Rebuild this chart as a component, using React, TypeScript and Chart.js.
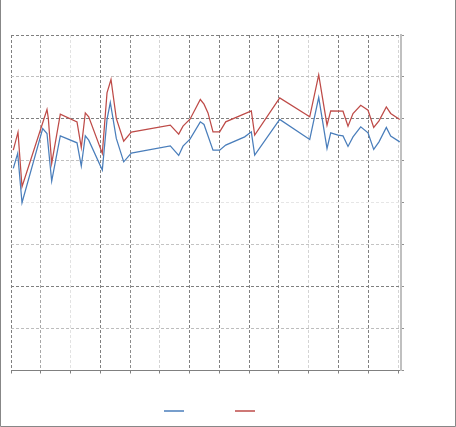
import React, { useEffect, useRef } from 'react';
import { Chart, registerables } from 'chart.js';

Chart.register(...registerables);

// Series labels (the legend shows only the line keys)
const seriesLabels: string[] = ['', ''];

// Blue series (x, y)
const blueX: number[] = [0.077, 0.225, 0.37, 1.065, 1.209, 1.367, 1.656, 2.217, 2.361, 2.496, 2.61, 3.067, 3.225, 3.336, 3.537, 3.786, 4.041, 5.351, 5.633, 5.778, 6.013, 6.359, 6.483, 6.785, 7.01, 7.212, 7.85, 8.072, 8.186, 9.026, 10.034, 10.336, 10.615, 10.739, 10.984, 11.152, 11.32, 11.488, 11.747, 11.992, 12.183, 12.361, 12.607, 12.754, 13.057];
const blueY: number[] = [48.19, 51.76, 40.0, 57.71, 56.52, 45.17, 55.95, 54.29, 48.74, 55.95, 54.93, 47.79, 59.86, 63.9, 55.33, 49.76, 51.83, 53.57, 51.29, 53.5, 55.17, 59.29, 58.67, 52.55, 52.55, 53.74, 55.71, 56.9, 51.36, 59.86, 55.1, 65.1, 52.95, 56.67, 56.12, 55.95, 53.43, 55.71, 58.1, 56.67, 52.71, 54.52, 57.95, 55.88, 54.52];

// Red series (x, y)
const redX: number[] = [0.077, 0.235, 0.37, 1.209, 1.253, 1.367, 1.656, 2.217, 2.361, 2.496, 2.61, 3.067, 3.225, 3.359, 3.537, 3.786, 4.041, 5.351, 5.633, 5.778, 6.013, 6.359, 6.483, 6.617, 6.785, 7.01, 7.212, 8.072, 8.186, 9.026, 10.034, 10.336, 10.615, 10.739, 11.152, 11.32, 11.488, 11.747, 11.992, 12.183, 12.361, 12.607, 12.754, 13.057];
const redY: number[] = [52.55, 56.83, 43.81, 62.24, 60.17, 49.38, 61.12, 59.29, 53.19, 61.43, 60.48, 51.76, 66.19, 69.38, 60.1, 54.69, 56.83, 58.5, 56.36, 58.26, 59.93, 64.62, 63.5, 61.43, 56.9, 56.9, 59.29, 61.9, 56.12, 65.0, 60.48, 70.48, 58.5, 61.9, 61.83, 58.26, 61.29, 63.26, 62.07, 57.95, 59.52, 62.86, 61.29, 59.86];

// Axis ranges
const xMin = 0;
const xMax = 13.1;
const xStep = 1;
const yMin = 0;
const yMax = 80;
const yStep = 10;

const toPoints = (xs: number[], ys: number[]) => xs.map((x, i) => ({ x, y: ys[i] }));

const yGridColors = ['#808080', '#bdbdbd', '#808080', '#c4c4c4', '#e6e6e6', '#c0c0c0', '#808080', '#c0c0c0', '#808080'];
const xGridColors = ['#808080', '#a8a8a8', '#e2e2e2', '#808080', '#8c8c8c', '#d4d4d4', '#808080', '#808080', '#808080', '#808080', '#d4d4d4', '#808080', '#808080', '#d4d4d4'];

const framePlugin = {
  id: 'frame',
  beforeDraw(chart: any) {
    const { ctx, width, height } = chart;
    ctx.save();
    ctx.fillStyle = '#ffffff';
    ctx.fillRect(0, 0, width, height);
    ctx.strokeStyle = '#878787';
    ctx.lineWidth = 1;
    ctx.beginPath();
    ctx.moveTo(0.5, 0);
    ctx.lineTo(0.5, height - 0.5);
    ctx.lineTo(width - 0.5, height - 0.5);
    ctx.lineTo(width - 0.5, 0);
    ctx.stroke();
    ctx.restore();
  },
};

export default function App() {
  const canvasRef = useRef<HTMLCanvasElement | null>(null);

  useEffect(() => {
    const canvas = canvasRef.current;
    if (!canvas) return;
    const chart = new Chart(canvas, {
      type: 'line',
      data: {
        datasets: [
          {
            label: seriesLabels[0],
            data: toPoints(blueX, blueY),
            borderColor: '#4a7ebb',
            backgroundColor: '#4a7ebb',
            borderWidth: 1.25,
            pointRadius: 0,
            tension: 0,
            fill: false,
          },
          {
            label: seriesLabels[1],
            data: toPoints(redX, redY),
            borderColor: '#be4b48',
            backgroundColor: '#be4b48',
            borderWidth: 1.25,
            pointRadius: 0,
            tension: 0,
            fill: false,
          },
        ],
      },
      options: {
        responsive: false,
        animation: false,
        events: [],
        layout: { padding: { left: 11, right: 42, top: 35, bottom: 0 }, autoPadding: false },
        plugins: {
          tooltip: { enabled: false },
          title: { display: false },
          legend: {
            display: true,
            position: 'bottom',
            align: 'center',
            labels: {
              usePointStyle: true,
              pointStyle: 'line',
              pointStyleWidth: 20,
              padding: 9.5,
              font: { size: 12 },
              generateLabels: (c: any) => {
                const items = (Chart as any).defaults.plugins.legend.labels.generateLabels(c);
                items.forEach((it: any) => {
                  it.lineWidth = 1.5;
                  it.pointStyle = 'line';
                });
                const spacer = {
                  text: '',
                  fillStyle: 'rgba(0,0,0,0)',
                  strokeStyle: 'rgba(0,0,0,0)',
                  lineWidth: 0,
                  pointStyle: 'line',
                  hidden: false,
                  datasetIndex: -1,
                };
                return [items[0], spacer, items[1]];
              },
            },
          },
        },
        scales: {
          x: {
            type: 'linear',
            position: 'bottom',
            min: xMin,
            max: xMax,
            afterFit: (s: any) => {
              s.height = 25;
            },
            ticks: { display: false, stepSize: xStep, includeBounds: false },
            grid: {
              display: true,
              drawOnChartArea: true,
              drawTicks: true,
              tickLength: 3,
              tickColor: '#808080',
              lineWidth: 1,
              color: (ctx: any) => xGridColors[ctx.index] ?? '#808080',
            },
            border: { display: true, color: '#808080', width: 1, dash: [3, 2] },
          },
          y: {
            type: 'linear',
            position: 'right',
            min: yMin,
            max: yMax,
            afterFit: (s: any) => {
              s.width = 13;
            },
            ticks: { display: false, stepSize: yStep },
            grid: {
              display: true,
              drawOnChartArea: true,
              drawTicks: true,
              tickLength: 3,
              tickColor: '#909090',
              lineWidth: 1,
              color: (ctx: any) => yGridColors[ctx.index] ?? '#808080',
            },
            border: { display: true, color: '#c0c0c0', width: 2, dash: [3, 2] },
          },
        },
      },
      plugins: [framePlugin],
    } as any);
    return () => chart.destroy();
  }, []);

  return (
    <div style={{ position: 'fixed', left: 0, top: 0, width: 456, height: 427, background: '#fff' }}>
      <canvas ref={canvasRef} width={456} height={427} style={{ display: 'block', width: 456, height: 427 }} />
    </div>
  );
}
